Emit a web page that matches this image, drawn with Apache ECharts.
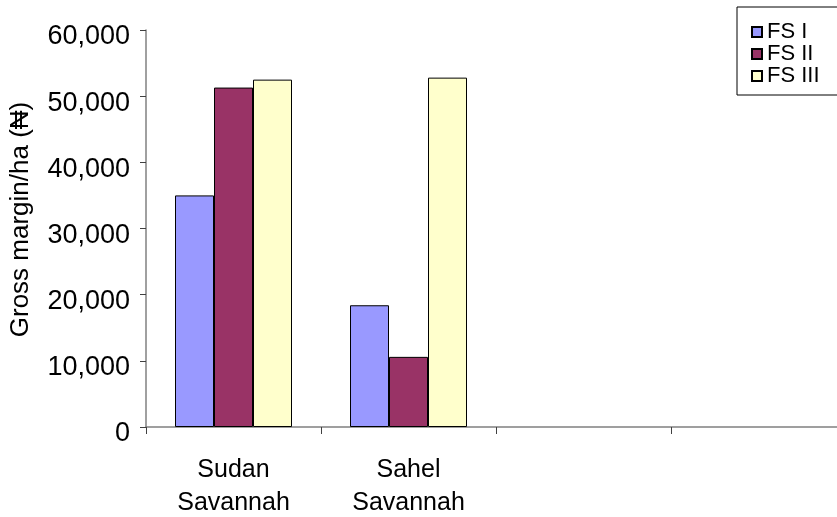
<!DOCTYPE html>
<html>
<head>
<meta charset="utf-8">
<script src="https://cdn.jsdelivr.net/npm/echarts@6/dist/echarts.min.js"></script>
<style>
html,body{margin:0;padding:0;background:#fff;}
#chart{width:837px;height:517px;}
</style>
</head>
<body>
<div id="chart"></div>
<script>
var categories = ['Sudan\nSavannah', 'Sahel\nSavannah', '', ''];
var seriesNames = ['FS I', 'FS II', 'FS III'];
var fsI = [35000, 18400];
var fsII = [51300, 10600];
var fsIII = [52500, 52800];
var yTicks = [0, 10000, 20000, 30000, 40000, 50000, 60000];
var colors = ['#9999FF', '#993366', '#FFFFCC'];

var FONT = "'Liberation Sans', Arial, sans-serif";
var chart = echarts.init(document.getElementById('chart'), null, {renderer: 'canvas'});

function fmt(v) {
  return String(v).replace(/\B(?=(\d{3})+(?!\d))/g, ',');
}

var dataSets = [fsI, fsII, fsIII];
var series = seriesNames.map(function (n, i) {
  return {
    name: n,
    type: 'bar',
    data: dataSets[i],
    barWidth: 39,
    barGap: '0%',
    itemStyle: {color: colors[i], borderColor: '#000', borderWidth: 1}
  };
});

chart.setOption({
  animation: false,
  backgroundColor: '#fff',
  textStyle: {fontFamily: FONT, color: '#000'},
  grid: {left: 146, top: 30, width: 700, height: 397, outerBoundsMode: 'none', containLabel: false},
  legend: {
    orient: 'vertical',
    left: 737,
    top: 7,
    padding: [14, 30, 8, 14],
    itemGap: 0,
    itemWidth: 10,
    itemHeight: 10,
    icon: 'rect',
    borderColor: '#000',
    borderWidth: 1,
    textStyle: {fontFamily: FONT, fontSize: 22, lineHeight: 20, color: '#000'},
    data: seriesNames
  },
  xAxis: {
    type: 'category',
    data: categories,
    axisLine: {lineStyle: {color: '#808080', width: 1.5}},
    axisTick: {show: true, length: 7, lineStyle: {color: '#404040'}},
    axisLabel: {
      color: '#000', fontFamily: FONT, fontSize: 25, lineHeight: 33, margin: 27,
      interval: 0
    }
  },
  yAxis: {
    type: 'value',
    min: yTicks[0],
    max: yTicks[yTicks.length - 1],
    interval: yTicks[1] - yTicks[0],
    name: 'Gross margin/ha (\u20A6)',
    nameLocation: 'middle',
    nameRotate: 90,
    nameGap: 112,
    nameTextStyle: {fontFamily: FONT, fontSize: 26, color: '#000', padding: [0, 0, 0, 18]},
    splitLine: {show: false},
    axisLine: {show: true, lineStyle: {color: '#808080', width: 1.5}},
    axisTick: {show: true, length: 6, lineStyle: {color: '#404040'}},
    axisLabel: {
      color: '#000', fontFamily: FONT, fontSize: 27, margin: 16,
      formatter: function (v) { return '{v|' + fmt(v) + '}'; },
      rich: {v: {fontFamily: FONT, fontSize: 27, color: '#000', padding: [14, 0, 0, 0]}}
    }
  },
  series: series
});
</script>
</body>
</html>
